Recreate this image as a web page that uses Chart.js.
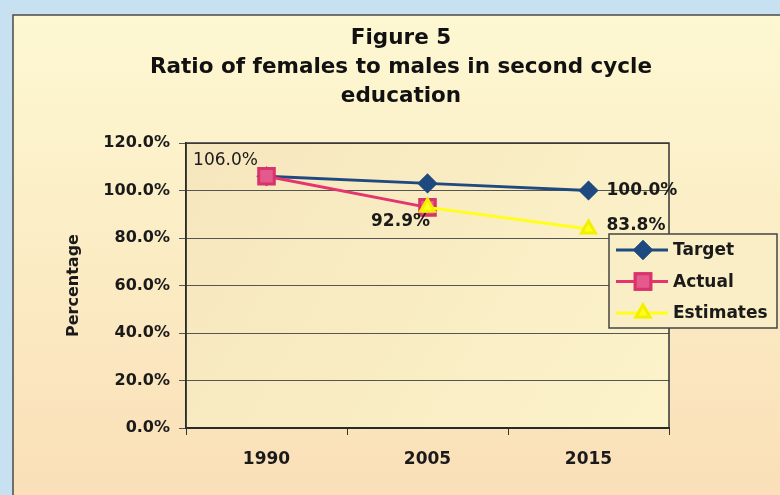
<!DOCTYPE html>
<html>
<head>
<meta charset="utf-8">
<script src="https://cdn.jsdelivr.net/npm/chart.js@4/dist/chart.umd.min.js"></script>
<style>
  html, body { margin: 0; padding: 0; background: #c8e1f1; }
  #wrap { width: 780px; height: 495px; position: relative; }
</style>
</head>
<body>
<div id="wrap"><canvas id="myChart" width="780" height="495"></canvas></div>
<script>
// chart data
const years = ['1990', '2005', '2015'];
const targetValues = [106.0, 103.0, 100.0];
const actualValues = [106.0, 92.9, null];
const estimateValues = [null, 92.9, 83.8];
const yTicks = [0, 20, 40, 60, 80, 100, 120];
const titleLines = ['Figure 5', 'Ratio of females to males in second cycle', 'education'];

const FONT = 'DejaVu Sans';

// which points get a value label, and where it sits relative to the point
const pointLabels = [
  { ds: 0, i: 2, dx: 18, dy: 0, align: 'left', bold: true },
  { ds: 1, i: 0, dx: -41, dy: -16, align: 'center', bold: false },
  { ds: 1, i: 1, dx: -27, dy: 14, align: 'center', bold: true },
  { ds: 2, i: 2, dx: 18, dy: -3, align: 'left', bold: true }
];

function fmt(v){
  return v.toFixed(1) + '%';
}

const backgroundPlugin = {
  id: 'bgFrame',
  beforeDraw(chart){
    const ctx = chart.ctx;
    const a = chart.chartArea;
    ctx.save();
    // light blue outer margin
    ctx.fillStyle = '#c8e1f1';
    ctx.fillRect(0, 0, chart.width, chart.height);
    // cream chart background
    let g = ctx.createLinearGradient(0, 15, 0, chart.height);
    g.addColorStop(0, '#fdf8d2');
    g.addColorStop(0.5, '#fbecc4');
    g.addColorStop(1, '#fadfb8');
    ctx.fillStyle = g;
    ctx.fillRect(13, 15, chart.width, chart.height);
    ctx.strokeStyle = '#4a4a4a';
    ctx.lineWidth = 1.5;
    ctx.beginPath();
    ctx.moveTo(13, chart.height);
    ctx.lineTo(13, 15);
    ctx.lineTo(chart.width, 15);
    ctx.stroke();
    // plot area
    g = ctx.createLinearGradient(a.left, a.top, a.right, a.bottom);
    g.addColorStop(0, '#f6e6bd');
    g.addColorStop(1, '#fcf3ca');
    ctx.fillStyle = g;
    ctx.fillRect(a.left, a.top, a.right - a.left, a.bottom - a.top);
    // title
    ctx.fillStyle = '#111';
    ctx.font = 'bold 21.5px "' + FONT + '"';
    ctx.textAlign = 'center';
    ctx.textBaseline = 'middle';
    titleLines.forEach((t, k) => ctx.fillText(t, 401, 38 + k * 29));
    ctx.restore();
  },
  afterDatasetsDraw(chart){
    const ctx = chart.ctx;
    const a = chart.chartArea;
    ctx.save();
    ctx.strokeStyle = '#333';
    ctx.lineWidth = 1.5;
    ctx.strokeRect(a.left, a.top, a.right - a.left, a.bottom - a.top);
    ctx.restore();
  }
};

const labelPlugin = {
  id: 'pointLabels',
  afterDatasetsDraw(chart){
    const ctx = chart.ctx;
    ctx.save();
    ctx.fillStyle = '#1a1a1a';
    ctx.textBaseline = 'middle';
    pointLabels.forEach(p => {
      const el = chart.getDatasetMeta(p.ds).data[p.i];
      const v = chart.data.datasets[p.ds].data[p.i];
      ctx.font = (p.bold ? 'bold ' : '') + '17px "' + FONT + '"';
      ctx.textAlign = p.align;
      ctx.fillText(fmt(v), el.x + p.dx, el.y + p.dy);
    });
    ctx.restore();
  }
};

const legendPlugin = {
  id: 'boxLegend',
  afterDraw(chart){
    const ctx = chart.ctx;
    const x = 609, y = 234, w = 168, h = 94;
    ctx.save();
    ctx.fillStyle = '#f9eec6';
    ctx.fillRect(x, y, w, h);
    ctx.strokeStyle = '#444';
    ctx.lineWidth = 1.5;
    ctx.strokeRect(x, y, w, h);
    chart.data.datasets.forEach((ds, k) => {
      const cy = y + 16 + k * 31.5;
      ctx.strokeStyle = ds.borderColor;
      ctx.lineWidth = 3;
      ctx.beginPath();
      ctx.moveTo(x + 7, cy);
      ctx.lineTo(x + 59, cy);
      ctx.stroke();
      Chart.helpers.drawPoint(ctx, {
        pointStyle: ds.pointStyle,
        radius: ds.pointRadius,
        borderWidth: 1
      }, x + 34, cy);
      ctx.fillStyle = ds.pointBackgroundColor;
      ctx.strokeStyle = ds.pointBorderColor;
      ctx.fill();
      ctx.stroke();
      ctx.fillStyle = '#1a1a1a';
      ctx.font = 'bold 17px "' + FONT + '"';
      ctx.textAlign = 'left';
      ctx.textBaseline = 'middle';
      ctx.fillText(ds.label, x + 64, cy + 1);
    });
    ctx.restore();
  }
};

const ctx = document.getElementById('myChart').getContext('2d');
const myChart = new Chart(ctx, {
  type: 'line',
  data: {
    labels: years,
    datasets: [{
      label: 'Target',
      data: targetValues,
      borderColor: '#1f4a80',
      backgroundColor: '#1f4a80',
      pointBackgroundColor: '#1f4a80',
      pointBorderColor: '#1f4a80',
      pointStyle: 'rectRot',
      pointRadius: 8,
      borderWidth: 3,
      order: 3
    }, {
      label: 'Actual',
      data: actualValues,
      borderColor: '#e5356f',
      backgroundColor: '#e45a8c',
      pointBackgroundColor: '#e45a8c',
      pointBorderColor: '#d8336b',
      pointStyle: 'rect',
      pointRadius: 11,
      borderWidth: 3,
      order: 2
    }, {
      label: 'Estimates',
      data: estimateValues,
      borderColor: '#ffff1a',
      backgroundColor: '#ffff1a',
      pointBackgroundColor: '#ffff1a',
      pointBorderColor: '#f2f000',
      pointStyle: 'triangle',
      pointRadius: 8,
      borderWidth: 3,
      order: 1
    }]
  },
  options: {
    responsive: false,
    animation: false,
    layout: {
      padding: { top: 143, left: 64, right: 111, bottom: 22 }
    },
    plugins: {
      legend: { display: false },
      tooltip: { enabled: false },
      title: { display: false }
    },
    scales: {
      x: {
        offset: true,
        afterFit: s => { s.height = 45 },
        border: { display: true, color: '#111', width: 2 },
        grid: { drawOnChartArea: false, drawTicks: true, tickLength: 7, offset: true, color: '#333' },
        ticks: { color: '#1a1a1a', padding: 14, font: { family: FONT, size: 17, weight: 'bold' } }
      },
      y: {
        min: 0,
        max: 120,
        afterFit: s => { s.width = 122 },
        afterBuildTicks: s => { s.ticks = yTicks.map(v => ({ value: v })) },
        border: { display: true, color: '#111', width: 1.5 },
        grid: { color: '#555', lineWidth: 1, tickLength: 7, drawTicks: true },
        ticks: {
          color: '#1a1a1a',
          padding: 9,
          font: { family: FONT, size: 16, weight: 'bold' },
          callback: v => fmt(v)
        },
        title: {
          display: true,
          text: 'Percentage',
          color: '#1a1a1a',
          padding: { top: 0, bottom: 0 },
          font: { family: FONT, size: 16, weight: 'bold' }
        }
      }
    }
  },
  plugins: [backgroundPlugin, labelPlugin, legendPlugin]
});
</script>
</body>
</html>
